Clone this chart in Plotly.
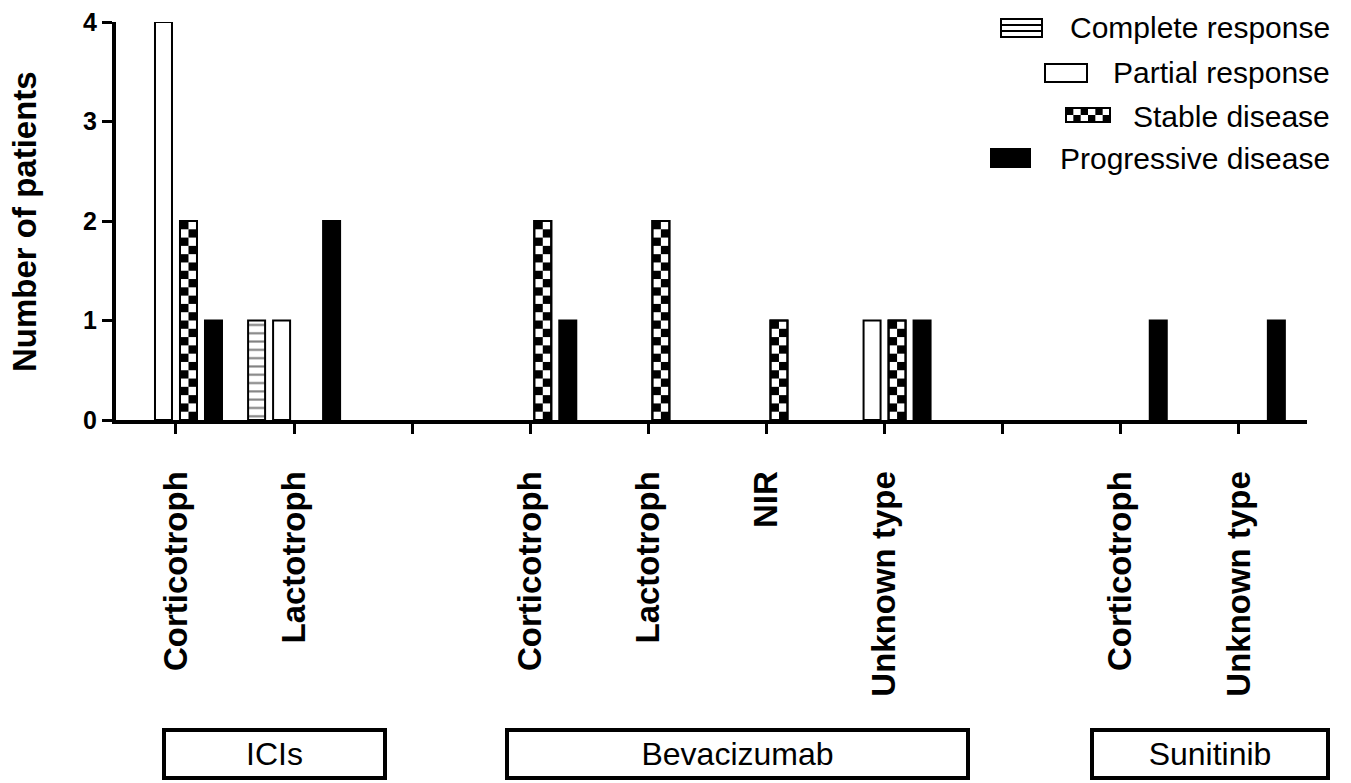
import plotly.graph_objects as go

# ---------------- data ----------------
categories = ["Corticotroph", "Lactotroph", "", "Corticotroph", "Lactotroph",
              "NIR", "Unknown type", "", "Corticotroph", "Unknown type"]
complete = [0, 1, None, 0, 0, 0, 0, None, 0, 0]
partial = [4, 1, None, 0, 0, 0, 1, None, 0, 0]
stable = [2, 0, None, 2, 2, 1, 1, None, 0, 0]
progressive = [1, 2, None, 1, 0, 0, 1, None, 1, 1]
series_names = ["Complete response", "Partial response", "Stable disease", "Progressive disease"]
groups = ["ICIs", "Bevacizumab", "Sunitinib"]
y_ticks = [0, 1, 2, 3, 4]

# ---------------- geometry / style ----------------
FONT = "Liberation Sans, Arial, Helvetica, sans-serif"
W, H = 1351, 783
X0, X1, YB, YT = 116, 1307, 420, 22          # plot area in px
SLOT_PX = 118.1
SPACING = 25 / SLOT_PX                        # distance between bars in a cluster
BW = 17 / SLOT_PX                             # bar width
SQ = 1 / 12                                   # checker square height (data units)

def px(xp):
    return (xp - X0) / (X1 - X0)

def py(yp):
    return (YB - yp) / (YB - YT)

def offs(k):
    return (k - 1.5) * SPACING - BW / 2

def outline(vals):
    # no visible outline for empty (zero-height) bars
    return dict(color="black", width=[2 if v else 0 for v in vals])

x = list(range(len(categories)))

fig = go.Figure()
fig.add_trace(go.Bar(
    x=x, y=complete, name=series_names[0], width=BW, offset=offs(0),
    marker=dict(color="white", line=outline(complete),
                pattern=dict(shape="-", fgcolor="black", bgcolor="white",
                             size=8.3, solidity=0.25)),
    showlegend=False))
fig.add_trace(go.Bar(
    x=x, y=partial, name=series_names[1], width=BW, offset=offs(1),
    marker=dict(color="white", line=outline(partial)), showlegend=False))
fig.add_trace(go.Bar(
    x=x, y=stable, name=series_names[2], width=BW, offset=offs(2),
    marker=dict(color="white", line=outline(stable)), showlegend=False))

# checkerboard fill for stable disease, derived from the stable values
cx, cb, co = [], [], []
for i, v in enumerate(stable):
    if not v:
        continue
    n = int(round(v / SQ))
    for r in range(n):
        for c in (0, 1):
            if (r + c) % 2 == 1:
                cx.append(i)
                cb.append(r * SQ)
                co.append(offs(2) + c * BW / 2)
fig.add_trace(go.Bar(
    x=cx, y=[SQ] * len(cx), base=cb, offset=co, width=BW / 2,
    marker=dict(color="black", line=dict(width=0)),
    showlegend=False, hoverinfo="skip"))
fig.add_trace(go.Bar(
    x=x, y=stable, width=BW, offset=offs(2),
    marker=dict(color="rgba(0,0,0,0)", line=outline(stable)),
    showlegend=False, hoverinfo="skip"))

fig.add_trace(go.Bar(
    x=x, y=progressive, name=series_names[3], width=BW, offset=offs(3),
    marker=dict(color="black", line=outline(progressive)), showlegend=False))

# ---------------- annotations ----------------
annotations = []
shapes = []

# y-axis title
annotations.append(dict(x=px(25), y=py(222), xref="paper", yref="paper",
                        text="Number of patients", textangle=-90, showarrow=False,
                        font=dict(family=FONT, size=33, color="black", weight="bold"),
                        xanchor="center", yanchor="middle"))

# group boxes
group_centers_px = [274.5, 737.5, 1210]
group_widths_px = [225, 465, 240]
for g, cpx, wpx in zip(groups, group_centers_px, group_widths_px):
    annotations.append(dict(
        x=px(cpx), y=py(754), xref="paper", yref="paper", text=g, showarrow=False,
        font=dict(family=FONT, size=32, color="black"),
        bordercolor="black", borderwidth=4, borderpad=3, bgcolor="white",
        width=wpx - 14, height=38, xanchor="center", yanchor="middle"))

# custom legend (right aligned)
legend_y = [28, 72, 116, 158]
for name, ly in zip(series_names, legend_y):
    annotations.append(dict(x=px(1332), y=py(ly), xref="paper", yref="paper",
                            text=name, showarrow=False, xanchor="right", yanchor="middle",
                            font=dict(family=FONT, size=30, color="black")))

def rect(x0, y0, x1, y1, fill="white", lw=2):
    return dict(type="rect", xref="paper", yref="paper",
                x0=px(x0), x1=px(x1), y0=py(y1), y1=py(y0),
                line=dict(color="black", width=lw), fillcolor=fill, layer="above")

# complete response symbol
shapes.append(rect(1001, 19, 1042, 37))
for yy in (25, 31):
    shapes.append(dict(type="line", xref="paper", yref="paper",
                       x0=px(1001), x1=px(1042), y0=py(yy), y1=py(yy),
                       line=dict(color="black", width=2), layer="above"))
# partial response symbol
shapes.append(rect(1045, 64, 1087, 82))
# stable disease symbol (checker)
shapes.append(rect(1066, 108, 1110, 122))
cols, rows = 6, 2
cw = (1110 - 1066) / cols
rh = (122 - 108) / rows
for r in range(rows):
    for c in range(cols):
        if (r + c) % 2 == 0:
            shapes.append(dict(type="rect", xref="paper", yref="paper",
                               x0=px(1066 + c * cw), x1=px(1066 + (c + 1) * cw),
                               y0=py(108 + (r + 1) * rh), y1=py(108 + r * rh),
                               line=dict(width=0), fillcolor="black", layer="above"))
# progressive disease symbol
shapes.append(rect(991, 149, 1030, 167, fill="black"))

fig.update_layout(
    width=W, height=H,
    margin=dict(l=X0, r=W - X1, t=YT, b=H - YB, pad=0, autoexpand=False),
    barmode="overlay",
    plot_bgcolor="white", paper_bgcolor="white",
    font=dict(family=FONT, color="black"),
    annotations=annotations, shapes=shapes,
    xaxis=dict(range=[-0.508, 9.577], tickmode="array", tickvals=x, ticktext=categories,
               tickangle=-90, ticks="outside", ticklen=10, tickwidth=3, tickcolor="black",
               showline=True, linecolor="black", linewidth=4, showgrid=False, zeroline=False,
               tickfont=dict(family=FONT, size=33, color="black", weight="bold"),
               ticklabelstandoff=24, automargin=False),
    yaxis=dict(range=[0, 4], tickmode="array", tickvals=y_ticks,
               ticks="outside", ticklen=10, tickwidth=3, tickcolor="black",
               showline=True, linecolor="black", linewidth=4, showgrid=False, zeroline=False,
               tickfont=dict(family=FONT, size=25, color="black", weight="bold"),
               automargin=False),
)

fig.write_html("out.html", config={"displayModeBar": False},
               post_script="document.body.style.margin='0';")
